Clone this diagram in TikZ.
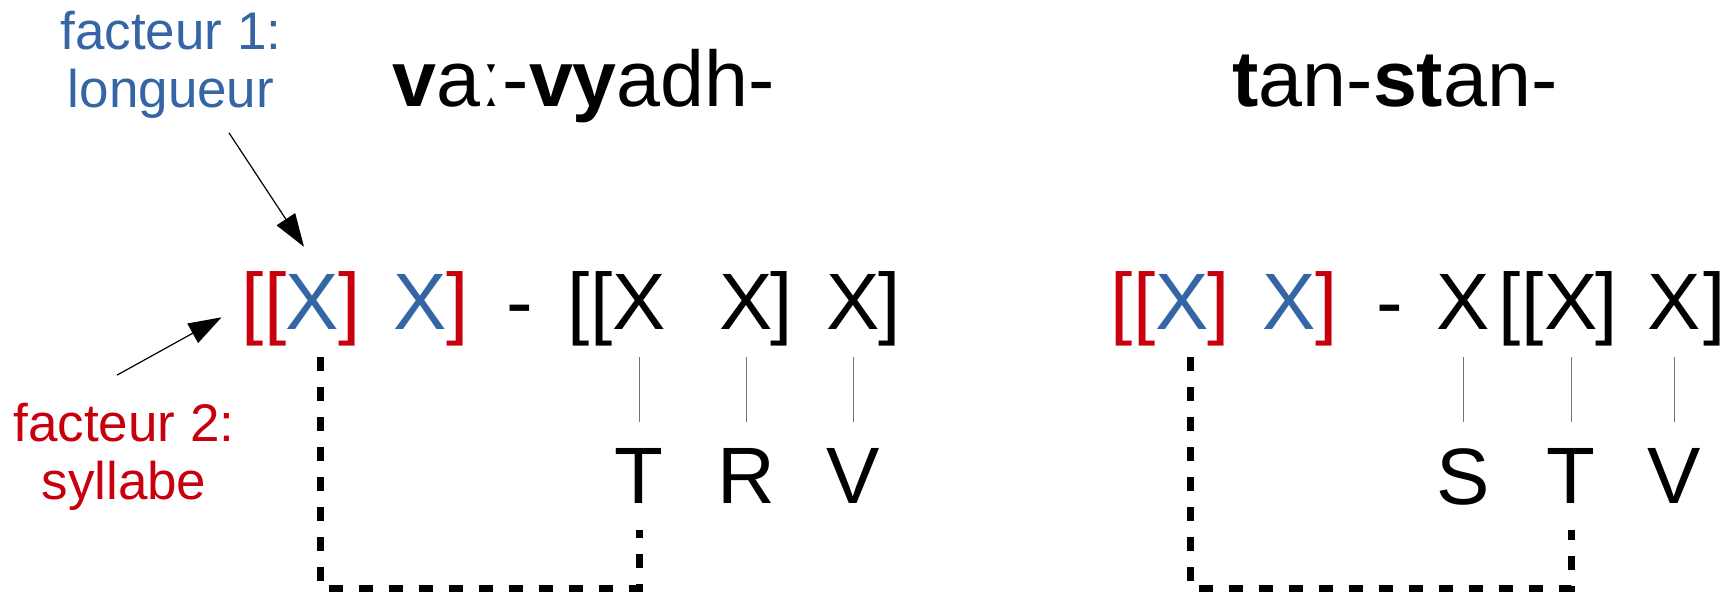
\documentclass[tikz,border=0pt]{standalone}
\usepackage{fontspec}
\setmainfont{Liberation Sans}
\usetikzlibrary{arrows.meta, positioning}
\definecolor{lenblue}{HTML}{3465A4}
\definecolor{sylred}{HTML}{C8000E}
\tikzstyle{seg}=[inner sep=0pt, anchor=base, font=\fontsize{80}{96}\selectfont]
\tikzstyle{word}=[inner sep=0pt, anchor=base, font=\fontsize{79}{90}\selectfont]
\tikzstyle{note}=[inner sep=0pt, align=center, font=\fontsize{53}{58}\selectfont]
\tikzstyle{arr}=[line width=1.2pt, -{Triangle[length=33pt,width=22pt]}]
\tikzstyle{tick}=[black!55, line width=1pt, shorten <=27pt, shorten >=26pt]
\tikzstyle{bond}=[line width=7pt, dash pattern=on 14pt off 16pt]

\begin{document}
\begin{tikzpicture}[x=1pt, y=1pt]
    \useasboundingbox (0,0) rectangle (1727,593);

    % the two stems
    \node[word] (w1) at (584,486) {\textbf{v}aː-\textbf{vy}adh-};
    \node[word] (w2) at (1395,486) {\textbf{t}an-\textbf{st}an-};

    % the two factors
    \node[note, lenblue] (f1) at (171,528) {facteur 1:\\longueur};
    \node[note, sylred] (f2) at (124,136) {facteur 2:\\syllabe};

    % skeleton of va:-vyadh-
    \node[seg, sylred] (oa) at (264,263) {[[};
    \node[seg, lenblue] (xa) at (312,263) {X};
    \node[seg, sylred] (ca) at (350,263) {]};
    \node[seg, lenblue] (xb) at (420,263) {X};
    \node[seg, sylred] (cb) at (458,263) {]};
    \node[seg] (ha) at (520,263) {-};
    \node[seg] (ob) at (590,263) {[[};
    \node[seg] (xc) at (639,263) {X};
    \node[seg] (xd) at (746,263) {X};
    \node[seg] (cc) at (782,263) {]};
    \node[seg] (xe) at (853,263) {X};
    \node[seg] (cd) at (890,263) {]};

    \node[seg, below=118pt of xc] (ta) {T};
    \node[seg, below=118pt of xd] (ra) {R};
    \node[seg, below=118pt of xe] (va) {V};

    % skeleton of tan-stan-
    \node[seg, sylred] (oc) at (1133,263) {[[};
    \node[seg, lenblue] (xf) at (1182,263) {X};
    \node[seg, sylred] (ce) at (1219,263) {]};
    \node[seg, lenblue] (xg) at (1289,263) {X};
    \node[seg, sylred] (cf) at (1327,263) {]};
    \node[seg] (hb) at (1390,263) {-};
    \node[seg] (xh) at (1463,263) {X};
    \node[seg] (od) at (1521,263) {[[};
    \node[seg] (xi) at (1571,263) {X};
    \node[seg] (cg) at (1607,263) {]};
    \node[seg] (xj) at (1674,263) {X};
    \node[seg] (ch) at (1715,263) {]};

    \node[seg, below=118pt of xh] (sb) {S};
    \node[seg, below=118pt of xi] (tb) {T};
    \node[seg, below=118pt of xj] (vb) {V};

    % association lines
    \draw[tick] (xc) -- (ta);
    \draw[tick] (xd) -- (ra);
    \draw[tick] (xe) -- (va);
    \draw[tick] (xh) -- (sb);
    \draw[tick] (xi) -- (tb);
    \draw[tick] (xj) -- (vb);

    % copied slot
    \draw[bond] ([xshift=8pt,yshift=-27pt]xa.south) -- ++(0,-231pt) -| ([yshift=-26pt]ta.south);
    \draw[bond] ([xshift=8pt,yshift=-27pt]xf.south) -- ++(0,-231pt) -| ([yshift=-26pt]tb.south);

    % pointers from the factors
    \draw[arr] ([shift={(58pt,-14pt)}]f1.south) -- ([shift={(-8pt,28pt)}]xa.north);
    \draw[arr] ([shift={(-7pt,28pt)}]f2.north) -- ([shift={(-20pt,-8pt)}]oa.west);
\end{tikzpicture}
\end{document}
